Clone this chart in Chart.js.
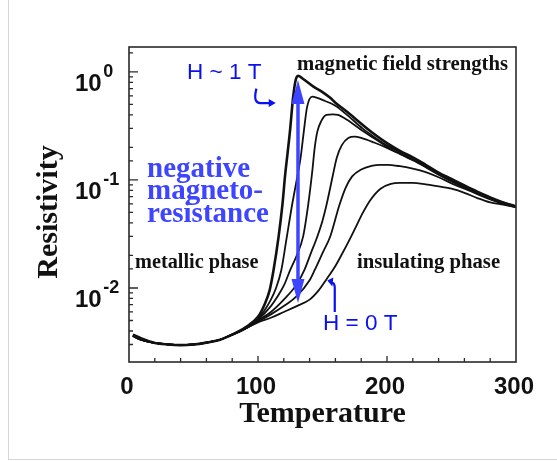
<!DOCTYPE html>
<html>
<head>
<meta charset="utf-8">
<script src="https://cdn.jsdelivr.net/npm/chart.js@4.4.1/dist/chart.umd.min.js"></script>
<style>
  html, body { margin: 0; padding: 0; background: #ffffff; }
  #wrap { position: relative; width: 557px; height: 461px; overflow: hidden; }
  #frame { position: absolute; left: 8px; top: 0; width: 560px; height: 459px;
           border-left: 1px solid #d6d6d6; border-bottom: 1px solid #d6d6d6; }
  canvas { position: absolute; left: 0; top: 0; }
</style>
</head>
<body>
<div id="wrap">
  <div id="frame"></div>
  <canvas id="c" width="557" height="461"></canvas>
</div>
<script>
// ---------------- data ----------------
const xTickLabels = ['0', '100', '200', '300'];
const yDecades = [1, 0.1, 0.01];
const yTickBase = '10';
const yTickExponents = ['0', '-1', '-2'];

// curve 1: highest field (H ~ 1 T)
const temps1 = [3,10,20,30,40,50,60,70,80,90,100,105,109,112,116,119,121,123,125,127,129,131,135,143,150,156,160,169,181,190,200,210,220,230,240,250,260,270,280,290,300];
const rho1   = [0.0037,0.0034,0.0031,0.0030,0.00296,0.0030,0.00312,0.0033,0.0037,0.0043,0.0054,0.0070,0.0095,0.0145,0.030,0.060,0.11,0.18,0.30,0.55,0.82,0.92,0.86,0.73,0.65,0.575,0.519,0.427,0.324,0.266,0.219,0.186,0.162,0.138,0.117,0.102,0.089,0.078,0.069,0.062,0.057];

// curve 2
const temps2 = [3,10,20,30,40,50,60,70,80,90,100,105,110,114,118,122,126,130,133,135.5,138,142,146,150,156,160,169,181,190,200,210,220,230,240,250,260,270,280,290,300];
const rho2   = [0.0036,0.0033,0.0031,0.0030,0.00296,0.0030,0.00312,0.0033,0.0037,0.0042,0.0052,0.0062,0.0078,0.0100,0.0145,0.028,0.055,0.10,0.16,0.28,0.47,0.59,0.575,0.55,0.515,0.485,0.40,0.30,0.25,0.208,0.182,0.159,0.136,0.116,0.101,0.088,0.077,0.068,0.062,0.057];

// curve 3
const temps3 = [3,10,20,30,40,50,60,70,80,90,100,110,115,120,125,130,135,139,142,144,146,149,153,158,162,169,181,190,200,210,220,230,240,250,260,270,280,290,300];
const rho3   = [0.0036,0.0033,0.0031,0.0030,0.00296,0.0030,0.00312,0.0033,0.0037,0.0042,0.0051,0.0068,0.0083,0.0105,0.0147,0.020,0.030,0.060,0.118,0.20,0.28,0.35,0.40,0.405,0.40,0.36,0.285,0.243,0.203,0.176,0.154,0.133,0.113,0.099,0.087,0.076,0.068,0.061,0.057];

// curve 4
const temps4 = [3,10,20,30,40,50,60,70,80,90,100,110,120,130,136,141,146,150,153,158,161,165,170,175,180,190,200,210,220,230,240,250,260,270,280,290,300];
const rho4   = [0.0036,0.0033,0.0031,0.0030,0.00296,0.0030,0.00312,0.0033,0.0037,0.0042,0.0050,0.0060,0.0078,0.0108,0.0147,0.021,0.030,0.042,0.058,0.110,0.160,0.210,0.245,0.252,0.245,0.222,0.198,0.174,0.152,0.131,0.112,0.097,0.085,0.075,0.067,0.061,0.056];

// curve 5
const temps5 = [3,10,20,30,40,50,60,70,80,90,100,110,120,130,140,144,150,156,163,168,173,180,188,195,200,210,220,230,240,250,260,270,280,290,300];
const rho5   = [0.0036,0.0033,0.0031,0.0030,0.00296,0.0030,0.00312,0.0033,0.0037,0.0042,0.0049,0.0057,0.0068,0.0084,0.0118,0.0147,0.021,0.030,0.058,0.085,0.108,0.125,0.135,0.138,0.138,0.134,0.127,0.118,0.106,0.093,0.083,0.074,0.066,0.060,0.056];

// curve 6: zero field (H = 0 T)
const temps6 = [3,10,20,30,40,50,60,70,80,90,100,110,120,130,140,147,153,160,165,171,176,181,187,195,203,210,220,230,240,250,260,270,280,290,300];
const rho6   = [0.0036,0.0033,0.0031,0.0030,0.00296,0.0030,0.00312,0.0033,0.0037,0.0042,0.0048,0.0053,0.0060,0.0068,0.0078,0.0095,0.0120,0.0160,0.0205,0.028,0.037,0.049,0.065,0.083,0.092,0.094,0.094,0.091,0.087,0.083,0.076,0.068,0.062,0.059,0.056];

// ---------------- chart ----------------
function pts(ts, rs) { return ts.map((t, i) => ({ x: t, y: rs[i] })); }

const curveColor = '#111111';
function ds(ts, rs, w) {
  return {
    data: pts(ts, rs),
    borderColor: curveColor,
    borderWidth: w,
    pointRadius: 0,
    fill: false,
    cubicInterpolationMode: 'monotone'
  };
}

const isDecade = v => { const l = Math.log10(v); return Math.abs(l - Math.round(l)) < 1e-6; };

const blue = '#0a10ee';
const blueSoft = '#3d45ff';
const sansFont = '"Liberation Sans", Arial, sans-serif';
const serifFont = '"Liberation Serif", "Times New Roman", serif';

const boxPlugin = {
  id: 'box',
  afterDatasetsDraw(chart) {
    const { ctx, chartArea: a, scales: { x, y } } = chart;
    ctx.save();
    ctx.strokeStyle = '#2a2a2a';
    ctx.lineWidth = 1.6;
    ctx.strokeRect(a.left, a.top, a.right - a.left, a.bottom - a.top);
    ctx.lineWidth = 1.3;
    ctx.beginPath();
    x.ticks.forEach(t => {
      if (t.value <= x.min || t.value >= x.max) return;
      const px = x.getPixelForValue(t.value);
      const len = (t.value % 100 === 0) ? 6 : 4;
      ctx.moveTo(px, a.bottom); ctx.lineTo(px, a.bottom - len);
    });
    y.ticks.forEach(t => {
      if (t.value <= y.min || t.value >= y.max) return;
      const py = y.getPixelForValue(t.value);
      const len = isDecade(t.value) ? 9 : 4;
      ctx.moveTo(a.left, py); ctx.lineTo(a.left + len, py);
    });
    ctx.stroke();

    // y tick labels: 10 with a raised exponent
    ctx.fillStyle = '#111';
    ctx.textBaseline = 'alphabetic';
    ctx.textAlign = 'left';
    yDecades.forEach((d, i) => {
      const py = y.getPixelForValue(d);
      const lx = a.left - 54;
      ctx.font = 'bold 24px ' + sansFont;
      ctx.fillText(yTickBase, lx, py + 19);
      const w = ctx.measureText(yTickBase).width;
      ctx.font = 'bold 18px ' + sansFont;
      ctx.fillText(yTickExponents[i], lx + w + 1.5, py + 5);
    });
    ctx.restore();
  },
  afterDraw(chart) {
    const { ctx, scales: { x, y } } = chart;
    const X = v => x.getPixelForValue(v);
    const Y = v => y.getPixelForValue(v);
    ctx.save();
    // black annotations
    ctx.fillStyle = '#111';
    ctx.textAlign = 'left';
    ctx.textBaseline = 'alphabetic';
    ctx.font = 'bold 20.7px ' + serifFont;
    ctx.fillText('magnetic field strengths', X(130.2), Y(1.04));
    ctx.font = 'bold 20.3px ' + serifFont;
    ctx.fillText('metallic phase', X(4.7), Y(0.0153));
    ctx.font = 'bold 20.7px ' + serifFont;
    ctx.fillText('insulating phase', X(176.7), Y(0.0153));

    // blue labels
    ctx.fillStyle = blue;
    ctx.font = '22.5px ' + sansFont;
    ctx.fillText('H ~ 1 T', X(45), Y(0.861));
    ctx.fillText('H = 0 T', X(150.4), Y(0.00408));

    ctx.fillStyle = blueSoft;
    ctx.font = 'bold 29px ' + serifFont;
    ctx.fillText('negative', X(14), Y(0.1066));
    ctx.fillText('magneto-', X(14), Y(0.0667));
    ctx.fillText('resistance', X(14), Y(0.0408));

    // double arrow
    const ax = X(131);
    const top = Y(0.843), bot = Y(0.00727);
    const headL = 24, headW = 6.5;
    ctx.strokeStyle = blueSoft;
    ctx.fillStyle = blueSoft;
    ctx.lineWidth = 3.5;
    ctx.beginPath(); ctx.moveTo(ax, top + headL - 2); ctx.lineTo(ax, bot - headL + 2); ctx.stroke();
    ctx.beginPath(); ctx.moveTo(ax, top); ctx.lineTo(ax - headW, top + headL); ctx.lineTo(ax + headW, top + headL); ctx.closePath(); ctx.fill();
    ctx.beginPath(); ctx.moveTo(ax, bot); ctx.lineTo(ax - headW, bot - headL); ctx.lineTo(ax + headW, bot - headL); ctx.closePath(); ctx.fill();

    // hook arrow from "H ~ 1 T"
    ctx.strokeStyle = blue; ctx.fillStyle = blue;
    ctx.lineWidth = 2.2;
    let x0 = X(98), y0 = Y(0.70), x1 = X(113), y1 = Y(0.515);
    ctx.beginPath();
    ctx.moveTo(x0 + 1, y0);
    ctx.quadraticCurveTo(x0 - 3, y1 + 1, x0 + 6, y1);
    ctx.lineTo(x1 - 5, y1);
    ctx.stroke();
    ctx.beginPath(); ctx.moveTo(x1 + 1, y1); ctx.lineTo(x1 - 6, y1 - 4); ctx.lineTo(x1 - 6, y1 + 4); ctx.closePath(); ctx.fill();

    // hook arrow for "H = 0 T"
    let hx = X(159.5), hy = Y(0.0060), tx = X(154.5), ty = Y(0.0117);
    ctx.beginPath();
    ctx.moveTo(hx, hy);
    ctx.lineTo(hx, ty + 7);
    ctx.quadraticCurveTo(hx, ty + 2, tx + 3, ty + 2);
    ctx.stroke();
    ctx.beginPath(); ctx.moveTo(tx - 1, ty); ctx.lineTo(tx + 5, ty - 3); ctx.lineTo(tx + 4, ty + 6); ctx.closePath(); ctx.fill();
    ctx.restore();
  }
};

new Chart(document.getElementById('c').getContext('2d'), {
  type: 'line',
  data: {
    datasets: [
      ds(temps1, rho1, 2.6),
      ds(temps2, rho2, 1.8),
      ds(temps3, rho3, 1.8),
      ds(temps4, rho4, 1.8),
      ds(temps5, rho5, 1.8),
      ds(temps6, rho6, 1.8)
    ]
  },
  options: {
    responsive: false,
    animation: false,
    devicePixelRatio: 1,
    layout: { padding: { top: 47, right: 41, left: 0, bottom: 0 } },
    plugins: { legend: { display: false }, tooltip: { enabled: false } },
    scales: {
      x: {
        type: 'linear', min: 0, max: 300,
        grid: { display: false }, border: { display: false },
        ticks: {
          stepSize: 20, autoSkip: false, maxRotation: 0, padding: 3, labelOffset: -2,
          color: '#111', font: { family: sansFont, size: 24, weight: 'bold' },
          callback: v => (v % 100 === 0 ? xTickLabels[v / 100] : '')
        },
        title: {
          display: true, text: 'Temperature', color: '#111',
          font: { family: serifFont, weight: 'bold', size: 30 },
          padding: { top: 0, bottom: 29 }
        },
        afterFit: s => { s.height = 99; }
      },
      y: {
        type: 'logarithmic', min: 0.002065, max: 1.70,
        grid: { display: false }, border: { display: false },
        ticks: {
          autoSkip: false, padding: 8,
          color: '#111', font: { family: sansFont, size: 24 },
          callback: () => ''
        },
        title: {
          display: true, text: 'Resistivity\u00A0\u00A0', color: '#111',
          font: { family: serifFont, weight: 'bold', size: 30 },
          padding: { top: 31, bottom: 0 }
        },
        afterFit: s => { s.width = 129; }
      }
    }
  },
  plugins: [boxPlugin]
});
</script>
</body>
</html>
